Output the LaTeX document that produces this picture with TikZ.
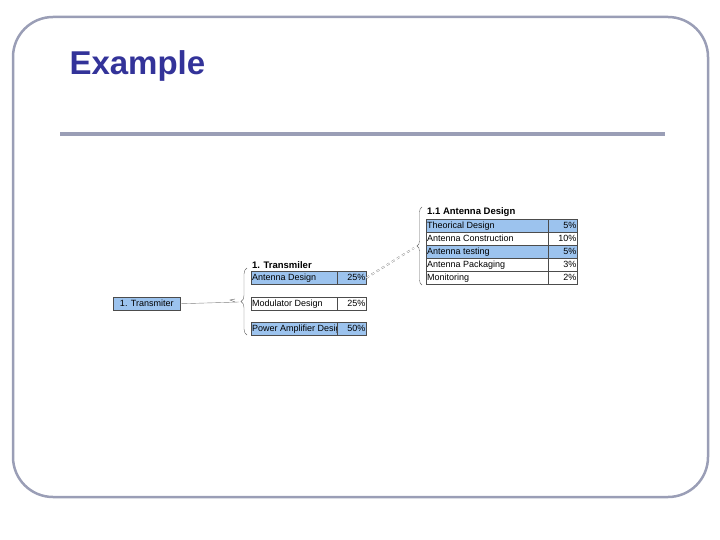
\documentclass[tikz,border=0pt]{standalone}
\usepackage{fontspec}
\setmainfont{Liberation Sans}
\usetikzlibrary{decorations.pathreplacing}
\definecolor{framecol}{HTML}{9A9EB6}
\definecolor{titlecol}{HTML}{333399}
\definecolor{cellblue}{HTML}{9CC3EE}
\tikzset{
  cell/.style={draw=black!70,line width=0.5pt,minimum height=13pt,inner sep=0pt,font=\fontsize{9}{10}\selectfont},
  lab/.style={anchor=west,inner sep=1pt,font=\fontsize{9}{10}\selectfont},
  hd/.style={anchor=south west,inner sep=1pt,font=\fontsize{9.5}{10}\selectfont\bfseries}
}
\begin{document}
\begin{tikzpicture}[x=1pt,y=-1pt]
\useasboundingbox (0,0) rectangle (720,540);
\draw[framecol,line width=2.5pt,rounded corners=40pt] (13,17) rectangle (708,497);
\node[anchor=west,text=titlecol,font=\fontsize{33}{36}\selectfont\bfseries] (title) at (66,66) {Example};
\draw[framecol,line width=3.5pt] (60,134) -- (665,134);

% root
\node[cell,fill=cellblue,minimum width=67pt,anchor=north west,font=\fontsize{9}{10}\selectfont] (root) at (113,297) {1. Transmiter};

% first level
\node[hd] (t1) at (251,270) {1. Transmiler};
\foreach \name/\txt/\pct/\y/\col in {ant/Antenna Design/25\%/271/cellblue,mod/Modulator Design/25\%/297/white,pow/Power Amplifier Design/50\%/322/cellblue}{
  \node[cell,fill=\col,minimum width=115pt,anchor=north west] (\name) at (251,\y) {};
  \node[lab] at (\name.west) {\txt};
  \node[cell,fill=\col,minimum width=29pt,anchor=north east] (\name p) at (\name.north east) {};
  \node[lab,anchor=east] at (\name p.east) {\pct};
}
\draw[decorate,decoration={brace,amplitude=6pt,mirror},black!60] (247,268) -- (247,335);
\coordinate (b1) at (239,302);
\draw[black!50] (root.east) -- (b1);
\draw[black!60] (235,299) -- (230,300) -- (235,302);

% second level
\node[hd] (t2) at (426,218) {1.1 Antenna Design};
\foreach \name/\txt/\pct/\y/\col in {r1/Theorical Design/5\%/219/cellblue,r2/Antenna Construction/10\%/232/white,r3/Antenna testing/5\%/245/cellblue,r4/Antenna Packaging/3\%/258/white,r5/Monitoring/2\%/271/white}{
  \node[cell,fill=\col,minimum width=151pt,anchor=north west] (\name) at (426,\y) {};
  \node[lab] at (\name.west) {\txt};
  \node[cell,fill=\col,minimum width=29pt,anchor=north east] (\name p) at (\name.north east) {};
  \node[lab,anchor=east] at (\name p.east) {\pct};
}
\draw[decorate,decoration={brace,amplitude=5pt,mirror},black!60] (422,207) -- (422,285);
\coordinate (b2) at (414,248);
\draw[black!50,dashed,double,double distance=1pt] (antp.east) -- (b2);
\end{tikzpicture}
\end{document}
